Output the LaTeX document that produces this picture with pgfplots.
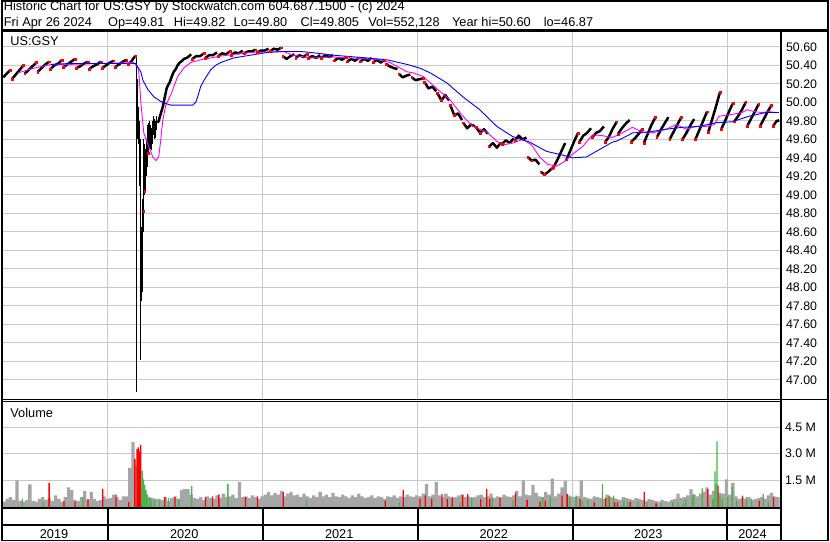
\documentclass[border=0pt]{standalone}
\usepackage{fontspec}
\setmainfont{Liberation Sans}
\usepackage{pgfplots}
\usepackage{pgfplotstable}
\pgfplotsset{compat=1.18}
\definecolor{gridg}{RGB}{200,200,200}
\definecolor{volg}{RGB}{166,166,166}
\definecolor{volgreen}{RGB}{70,180,70}
\definecolor{mag}{RGB}{255,0,255}
\newcommand{\tf}{\fontsize{12.8}{15}\selectfont}

% price: one slash per month, nan breaks between months
\pgfplotstableread{
x y
3.884 50.27
4.15 50.31
4.45 50.35
4.5 nan
4.55 50.25
4.85 50.30
5.15 50.35
5.45 50.40
5.5 nan
5.55 50.31
5.85 50.35
6.15 50.39
6.45 50.43
6.5 nan
6.55 50.33
6.85 50.37
7.15 50.41
7.45 50.44
7.5 nan
7.55 50.36
7.85 50.40
8.15 50.42
8.45 50.46
8.5 nan
8.55 50.38
8.85 50.41
9.15 50.44
9.45 50.47
9.5 nan
9.55 50.37
9.85 50.39
10.15 50.42
10.45 50.44
10.5 nan
10.55 50.36
10.85 50.39
11.15 50.41
11.45 50.44
11.5 nan
11.55 50.37
11.85 50.40
12.15 50.43
12.45 50.45
12.5 nan
12.55 50.38
12.85 50.41
13.15 50.44
13.45 50.46
13.5 nan
13.55 50.41
13.80 50.44
14.00 50.48
14.15 50.50
14.17 nan
15.85 49.78
15.94 49.80
16.10 49.88
16.25 49.95
16.40 50.05
16.55 50.15
16.64 50.18
16.80 50.22
16.95 50.28
17.10 50.33
17.26 50.36
17.40 50.40
17.57 50.43
17.75 50.45
17.90 50.47
18.10 50.48
18.30 50.50
18.45 50.52
18.5 nan
18.55 50.47
18.85 50.50
19.15 50.50
19.45 50.53
19.5 nan
19.55 50.48
19.85 50.51
20.15 50.51
20.45 50.54
20.5 nan
20.55 50.50
20.85 50.53
21.15 50.52
21.45 50.55
21.5 nan
21.55 50.51
21.85 50.54
22.15 50.53
22.45 50.56
22.5 nan
22.55 50.53
22.85 50.55
23.15 50.55
23.45 50.57
23.5 nan
23.55 50.54
23.85 50.56
24.15 50.56
24.45 50.58
24.5 nan
24.55 50.55
24.85 50.58
25.15 50.57
25.45 50.59
25.5 nan
25.55 50.50
25.85 50.47
26.15 50.50
26.45 50.52
26.5 nan
26.55 50.48
26.85 50.51
27.15 50.49
27.45 50.52
27.5 nan
27.55 50.48
27.85 50.50
28.15 50.48
28.45 50.51
28.5 nan
28.55 50.48
28.85 50.51
29.15 50.49
29.45 50.51
29.5 nan
29.55 50.45
29.85 50.48
30.15 50.46
30.45 50.49
30.5 nan
30.55 50.44
30.85 50.47
31.15 50.45
31.45 50.48
31.5 nan
31.55 50.44
31.85 50.47
32.15 50.45
32.45 50.48
32.5 nan
32.55 50.43
32.85 50.46
33.15 50.43
33.45 50.46
33.5 nan
33.55 50.41
33.85 50.39
34.15 50.37
34.45 50.36
34.5 nan
34.55 50.31
34.85 50.27
35.15 50.29
35.45 50.30
35.5 nan
35.55 50.27
35.85 50.24
36.15 50.25
36.45 50.26
36.5 nan
36.55 50.22
36.85 50.15
37.15 50.17
37.45 50.12
37.5 nan
37.55 50.10
37.85 50.02
38.15 50.08
38.45 50.02
38.5 nan
38.55 49.97
38.85 49.86
39.15 49.88
39.45 49.81
39.5 nan
39.55 49.78
39.85 49.72
40.15 49.76
40.45 49.74
40.5 nan
40.55 49.73
40.85 49.67
41.15 49.71
41.45 49.66
41.5 nan
41.55 49.52
41.85 49.56
42.15 49.51
42.45 49.56
42.5 nan
42.55 49.55
42.85 49.59
43.15 49.56
43.45 49.61
43.5 nan
43.55 49.59
43.85 49.64
44.15 49.60
44.45 49.62
44.5 nan
44.55 49.41
44.85 49.37
45.15 49.38
45.45 49.33
45.5 nan
45.55 49.25
45.85 49.22
46.15 49.25
46.45 49.29
46.5 nan
46.55 49.30
46.85 49.38
47.15 49.47
47.45 49.56
47.5 nan
47.55 49.38
47.85 49.48
48.15 49.58
48.45 49.67
48.5 nan
48.55 49.57
48.85 49.64
49.15 49.67
49.45 49.72
49.5 nan
49.55 49.62
49.85 49.67
50.15 49.69
50.45 49.74
50.5 nan
50.55 49.57
50.85 49.63
51.15 49.72
51.45 49.79
51.5 nan
51.55 49.66
51.85 49.72
52.15 49.77
52.45 49.81
52.5 nan
52.55 49.57
52.85 49.61
53.15 49.66
53.45 49.71
53.5 nan
53.55 49.56
53.85 49.66
54.15 49.76
54.45 49.84
54.5 nan
54.55 49.62
54.85 49.70
55.15 49.77
55.45 49.84
55.5 nan
55.55 49.60
55.85 49.68
56.15 49.76
56.45 49.84
56.5 nan
56.55 49.60
56.85 49.67
57.15 49.75
57.45 49.82
57.5 nan
57.55 49.60
57.85 49.70
58.15 49.80
58.45 49.90
58.5 nan
58.55 49.68
58.85 49.82
59.15 49.96
59.45 50.11
59.5 nan
59.55 49.71
59.85 49.80
60.15 49.90
60.45 49.99
60.5 nan
60.55 49.79
60.85 49.85
61.15 49.92
61.45 50.00
61.5 nan
61.55 49.74
61.85 49.82
62.15 49.90
62.45 49.98
62.5 nan
62.55 49.74
62.85 49.82
63.15 49.90
63.45 49.97
63.5 nan
63.55 49.74
63.85 49.80
64.05 49.805
}\pricetable

% March 2020 daily high-low bars
\pgfplotstableread{
x y
14.20 50.48
14.20 46.87
14.21 nan
14.25 50.25
14.25 49.70
14.26 nan
14.31 50.10
14.31 49.60
14.32 nan
14.37 49.95
14.37 49.55
14.38 nan
14.43 49.80
14.43 49.30
14.44 nan
14.49 49.60
14.49 49.10
14.50 nan
14.55 49.30
14.55 47.21
14.56 nan
14.61 48.65
14.61 47.85
14.62 nan
14.67 48.60
14.67 47.95
14.68 nan
14.72 48.95
14.72 48.60
14.73 nan
14.78 49.60
14.78 48.80
14.79 nan
14.85 49.55
14.85 49.00
14.86 nan
14.92 49.50
14.92 49.05
14.93 nan
14.98 49.60
14.98 49.20
14.99 nan
15.05 49.75
15.05 49.30
15.06 nan
15.12 49.78
15.12 49.45
15.13 nan
15.18 49.70
15.18 49.50
15.19 nan
15.25 49.80
15.25 49.55
15.26 nan
15.32 49.75
15.32 49.50
15.33 nan
15.40 49.72
15.40 49.48
15.41 nan
15.47 49.80
15.47 49.55
15.48 nan
15.55 49.85
15.55 49.65
15.56 nan
15.62 49.82
15.62 49.60
15.63 nan
15.70 49.80
15.70 49.62
15.71 nan
15.78 49.85
15.78 49.70
}\crashtable

% volume (millions), one bar every quarter month from x=3.95
\pgfplotstableread{
v
0.30
0.45
0.55
0.40
1.50
0.35
0.30
0.40
1.27
0.35
0.30
0.45
0.55
0.40
0.50
0.35
0.65
0.45
0.30
0.55
1.10
0.95
0.40
0.35
0.55
0.90
0.40
0.85
0.45
0.35
0.40
0.60
0.45
0.50
0.70
0.55
0.40
0.60
0.60
2.20
3.65
2.30
2.00
1.00
0.70
0.55
0.50
0.45
0.45
0.40
0.55
0.35
0.50
0.60
0.45
0.95
1.00
1.00
0.70
0.50
0.45
0.55
0.40
0.60
0.50
0.45
0.65
0.50
0.75
0.55
0.60
0.70
0.50
1.40
0.55
0.60
0.50
0.65
0.55
0.45
0.60
0.70
0.85
0.65
0.80
0.70
0.90
0.60
0.75
0.85
0.65
0.70
0.55
0.75
0.60
0.50
0.65
0.55
0.85
0.60
0.70
0.55
0.80
0.60
0.55
0.70
0.60
0.50
0.65
0.55
0.75
0.60
0.50
0.55
0.65
0.50
0.60
0.55
0.45
0.60
0.55
0.65
0.50
0.60
0.55
0.70
0.60
0.55
0.65
0.60
0.75
1.30
0.60
0.70
1.40
0.65
0.55
0.75
0.60
0.50
0.55
0.65
0.70
0.55
0.60
0.50
0.55
0.65
0.70
0.55
0.60
0.75
0.50
0.60
0.55
0.70
0.60
0.55
0.65
0.90
0.60
1.50
0.70
0.65
1.25
0.80
0.60
0.55
0.85
0.70
1.60
0.60
0.75
1.10
1.45
0.65
0.60
0.55
0.60
1.50
0.55
0.50
0.45
0.60
0.55
0.50
0.45
0.70
0.55
0.50
0.45
0.40
0.55
0.50
0.45
0.40
0.50
0.45
0.40
0.35
0.45
0.40
0.35
0.30
0.40
0.35
0.30
0.40
0.45
0.75
0.50
0.55
0.65
1.00
0.70
0.60
0.75
0.85
1.10
0.70
0.90
1.30
0.80
0.75
1.55
0.70
1.35
0.60
0.45
0.50
0.45
0.55
0.40
0.45
0.50
0.55
0.45
0.65
0.80
0.60
0.55
}\voltable

\begin{document}
\begin{tikzpicture}[x=1pt,y=1pt]

% ---------------- price panel ----------------
\begin{axis}[
  at={(2pt,143pt)}, anchor=south west, scale only axis,
  width=779pt, height=368pt,
  xmin=3.884, xmax=64.097, ymin=46.7954, ymax=50.7617,
  axis line style={draw=none}, major tick length=0pt,
  xtick={12,24,36,48,60}, xticklabels={},
  ytick={47.0,47.2,47.4,47.6,47.8,48.0,48.2,48.4,48.6,48.8,49.0,49.2,49.4,49.6,49.8,50.0,50.2,50.4,50.6},
  yticklabel pos=right,
  yticklabel style={anchor=west, inner sep=0pt, xshift=6pt, font=\fontsize{12.4}{14}\selectfont,
    /pgf/number format/.cd, fixed, fixed zerofill, precision=2, assume math mode=true},
  grid=major, major grid style={draw=gridg, line width=0.9pt},
  unbounded coords=jump,
]
\addplot[black, line width=2.5pt, line join=round] table[x=x,y=y] {\pricetable};
\addplot[black, line width=1.3pt] table[x=x,y=y] {\crashtable};
\addplot[only marks, mark=square*, mark size=0.9pt, red] coordinates {
(4.55,50.25) (5.55,50.31) (6.55,50.33) (7.55,50.36) (8.55,50.38) (9.55,50.37) (10.55,50.36)
(11.55,50.37) (12.55,50.38) (13.55,50.41) (18.55,50.47) (19.55,50.48) (20.55,50.50) (21.55,50.51)
(22.55,50.53) (23.55,50.54) (24.55,50.55) (25.55,50.50) (26.55,50.48) (27.55,50.48) (28.55,50.48)
(29.55,50.45) (30.55,50.44) (31.55,50.44) (32.55,50.43) (33.55,50.41) (34.55,50.31) (35.55,50.27)
(36.55,50.22) (37.55,50.10) (38.55,49.97) (39.55,49.78) (40.55,49.73) (41.55,49.52) (42.55,49.55)
(43.55,49.59) (44.55,49.41) (45.55,49.25) (46.55,49.30) (47.55,49.38) (48.55,49.57) (49.55,49.62)
(50.55,49.57) (51.55,49.66) (52.55,49.57) (53.55,49.56) (54.55,49.62) (55.55,49.60) (56.55,49.60)
(57.55,49.60) (58.55,49.68) (59.55,49.71) (60.55,49.79) (61.55,49.74) (62.55,49.74) (63.55,49.74)
(4.45,50.35) (5.45,50.40) (6.45,50.43) (7.45,50.44) (8.45,50.46) (9.45,50.47) (10.45,50.44)
(11.45,50.44) (12.45,50.45) (13.45,50.46) (14.15,50.50) (19.45,50.53) (21.45,50.55) (23.45,50.57)
(25.45,50.59) (27.45,50.52) (30.45,50.49) (33.45,50.46) (36.45,50.26) (42.45,49.56) (46.45,49.29)
(48.45,49.67) (51.45,49.79) (53.45,49.71) (54.45,49.84) (56.45,49.84) (58.45,49.90) (59.45,50.11)
(60.45,49.99) (61.45,50.00) (62.45,49.98) (63.45,49.97) (14.78,48.82) (14.85,49.04) (15.12,49.45)
(37.85,50.02) (38.85,49.86) (40.85,49.67) (45.85,49.22) (44.85,49.37)
};
\addplot[mag, line width=0.9pt] coordinates {
(5.044,50.32) (6.28,50.37) (7.59,50.41) (8.91,50.41) (11.46,50.42) (14.01,50.43) (14.32,50.38)
(14.40,50.32) (14.55,50.00) (14.78,49.67) (15.09,49.55) (15.48,49.41) (15.71,49.37) (15.94,49.41)
(16.10,49.60) (16.25,49.80) (16.48,49.97) (16.87,50.08) (17.41,50.28) (17.87,50.37) (18.42,50.43)
(19.19,50.46) (20.73,50.50) (23.05,50.54) (25.60,50.55) (26.38,50.51) (27.69,50.48) (29.47,50.49)
(32.10,50.47) (33.10,50.46) (33.87,50.43) (35.19,50.33) (35.65,50.32) (36.43,50.28) (37.74,50.12)
(38.51,50.03) (39.52,49.85) (40.29,49.74) (41.37,49.68) (42.15,49.58) (42.61,49.54) (43.38,49.56)
(44.15,49.60) (44.85,49.54) (45.47,49.41) (46.09,49.33) (46.78,49.31) (47.40,49.36) (48.02,49.44)
(48.79,49.52) (49.57,49.65) (50.34,49.64) (51.11,49.62) (51.88,49.67) (52.66,49.73) (53.43,49.68)
(54.20,49.67) (55.29,49.71) (56.06,49.76) (56.83,49.71) (57.60,49.74) (58.38,49.74) (59.00,49.76)
(59.38,49.85) (60.39,49.87) (61.16,49.89) (61.55,49.92) (62.09,49.90) (62.71,49.89) (63.25,49.90)
(63.79,49.89)
};
\addplot[blue, line width=0.9pt] coordinates {
(7.594,50.41) (9.0,50.42) (11.46,50.42) (14.16,50.42) (14.32,50.38) (14.55,50.33) (14.71,50.24)
(15.09,50.14) (15.56,50.06) (16.10,50.01) (16.64,49.98) (16.87,49.97) (18.57,49.97) (18.80,50.00)
(18.96,50.06) (19.19,50.17) (19.50,50.25) (19.73,50.30) (19.96,50.35) (20.35,50.40) (20.73,50.43)
(21.74,50.48) (23.05,50.51) (24.37,50.54) (25.60,50.55) (26.92,50.55) (27.69,50.54) (29.47,50.51)
(32.10,50.48) (33.64,50.46) (35.19,50.41) (36.19,50.37) (36.97,50.32) (38.28,50.21) (39.52,50.06)
(40.83,49.92) (42.15,49.74) (43.38,49.63) (44.70,49.57) (46.01,49.47) (47.25,49.43) (48.02,49.40)
(49.10,49.41) (50.11,49.49) (51.11,49.57) (51.42,49.58) (52.43,49.65) (52.66,49.67) (53.97,49.68)
(55.29,49.71) (56.52,49.73) (57.84,49.74) (59.15,49.78) (60.39,49.79) (61.70,49.85) (63.01,49.89)
(63.79,49.89) (64.02,49.89)
};
\end{axis}

% ---------------- volume panel ----------------
\begin{axis}[
  at={(2pt,34.5pt)}, anchor=south west, scale only axis,
  width=779pt, height=105.5pt,
  xmin=3.884, xmax=64.097, ymin=0, ymax=5.92,
  axis line style={draw=none}, major tick length=0pt,
  xtick={12,24,36,48,60}, xticklabels={},
  ytick={1.5,3,4.5}, yticklabels={1.5 M,3.0 M,4.5 M},
  yticklabel pos=right,
  yticklabel style={anchor=west, inner sep=0pt, xshift=5pt, font=\fontsize{12.4}{14}\selectfont},
  grid=major, major grid style={draw=gridg, line width=0.9pt},
]
\addplot[ybar, bar width=3.3pt, bar shift=0pt, fill=volg, draw=none] table[x expr=3.95+0.25*\coordindex, y=v] {\voltable};
\addplot[ybar, bar width=1.3pt, bar shift=0pt, fill=red, draw=none] coordinates {
(7.44,1.36) (8.6,0.35) (9.45,0.30) (10.45,0.45) (11.6,1.02) (12.62,0.70) (13.62,0.27)
(14.09,2.70) (14.25,3.25) (14.36,3.35) (14.47,3.15) (14.55,3.50) (16.4,0.55) (17.2,0.55)
(19.57,0.55) (20.1,0.6) (20.6,0.7) (22.67,0.55) (23.6,0.6) (25.6,0.83) (33.5,0.36) (34.9,0.95)
(36.2,0.45) (36.6,0.65) (37.1,0.45) (37.9,0.73) (38.3,0.45) (38.7,0.55) (39.5,0.7) (39.9,0.73)
(40.9,0.45) (41.37,1.02) (41.6,0.45) (42.4,0.5) (43.6,0.8) (44.5,0.4) (45.5,0.3) (45.9,0.36)
(47.2,0.64) (47.6,0.73) (48.6,0.45) (49.7,0.26) (50.6,0.5) (50.85,0.64) (51.3,0.26) (51.5,0.26)
(52.5,0.3) (53.58,0.83) (54.5,0.2) (58.5,1.0) (59.3,1.17) (61.2,0.64) (62.5,0.36) (63.6,0.55)
};
\addplot[ybar, bar width=1.3pt, bar shift=0pt, fill=volgreen, draw=none] coordinates {
(5.35,0.45) (6.98,0.26) (10.07,0.55) (14.65,2.05) (14.75,1.55) (14.85,1.25) (14.95,0.95)
(15.05,0.7) (15.2,0.5) (15.35,0.45) (15.6,0.4) (16.0,0.36) (16.7,0.5) (17.5,0.45) (18.5,1.17)
(21.3,1.3) (27.4,0.36) (34.6,0.26) (39.3,0.26) (40.2,0.55) (41.8,0.55) (43.4,0.36) (45.7,0.55)
(46.3,0.6) (47.8,0.55) (48.3,0.64) (48.8,0.36) (49.2,0.36) (50.34,1.3) (50.8,0.55) (51.2,0.64)
(52.0,0.36) (52.3,0.26) (53.1,0.3) (53.8,0.26) (54.9,0.2) (55.8,0.26) (56.2,0.26) (56.6,0.2)
(56.8,0.45) (57.3,0.55) (57.4,0.73) (58.07,1.05) (58.9,0.45) (59.07,2.0) (59.22,3.69)
(59.45,0.64) (59.65,0.45) (60.05,0.55) (60.4,1.1) (60.75,0.36) (61.5,0.55) (61.9,0.45)
(62.8,0.73) (63.2,0.3)
};
\end{axis}

% ---------------- frame and texts ----------------
\draw[line width=2.5pt] (0,512.25) -- (830,512.25);
\draw[line width=1pt] (0,142.5) -- (830,142.5);
\draw[line width=1pt] (0,140) -- (781.7,140);
\draw[line width=2.5pt] (0,33.25) -- (781.7,33.25);
\draw[line width=2pt] (0,16) -- (781.7,16);
\foreach \xx in {107,263,418,573,728} {\draw[line width=2pt] (\xx,1) -- (\xx,33);}
\draw[line width=2pt] (781.7,0.85) -- (781.7,512);

\node[anchor=base west, inner sep=0pt, font=\tf] at (2.5,532) {Historic Chart for US:GSY by Stockwatch.com 604.687.1500 - (c) 2024};
\node[anchor=base west, inner sep=0pt, font=\tf] at (2.5,516.3) {Fri Apr 26 2024};
\node[anchor=base west, inner sep=0pt, font=\tf] at (107,516.3) {Op=49.81};
\node[anchor=base west, inner sep=0pt, font=\tf] at (173,516.3) {Hi=49.82};
\node[anchor=base west, inner sep=0pt, font=\tf] at (233,516.3) {Lo=49.80};
\node[anchor=base west, inner sep=0pt, font=\tf] at (300,516.3) {Cl=49.805};
\node[anchor=base west, inner sep=0pt, font=\tf] at (368,516.3) {Vol=552,128};
\node[anchor=base west, inner sep=0pt, font=\tf] at (452,516.3) {Year hi=50.60};
\node[anchor=base west, inner sep=0pt, font=\tf] at (544,516.3) {lo=46.87};
\node[anchor=base west, inner sep=0pt, font=\tf] at (9,497.3) {US:GSY};
\node[anchor=base west, inner sep=0pt, font=\tf] at (9,124.7) {Volume};
\node[anchor=base, inner sep=0pt, font=\tf] at (53,3.2) {2019};
\node[anchor=base, inner sep=0pt, font=\tf] at (183.5,3.2) {2020};
\node[anchor=base, inner sep=0pt, font=\tf] at (339,3.2) {2021};
\node[anchor=base, inner sep=0pt, font=\tf] at (494,3.2) {2022};
\node[anchor=base, inner sep=0pt, font=\tf] at (649,3.2) {2023};
\node[anchor=base, inner sep=0pt, font=\tf] at (753.5,3.2) {2024};
\draw[line width=1.7pt] (0.85,0.85) rectangle (829.15,542.15);
\end{tikzpicture}
\end{document}
